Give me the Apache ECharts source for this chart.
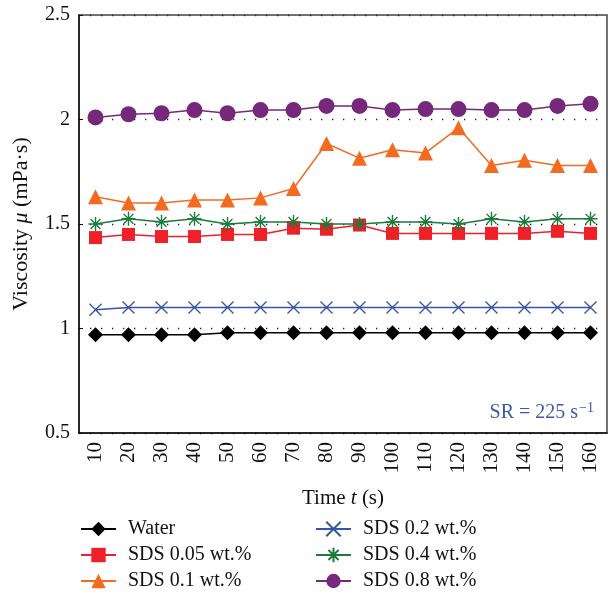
<!DOCTYPE html>
<html>
<head>
<meta charset="utf-8">
<script src="https://cdn.jsdelivr.net/npm/echarts@6/dist/echarts.min.js"></script>
<style>
  html, body { margin: 0; padding: 0; background: #fff; }
  #chart { width: 610px; height: 595px; }
</style>
</head>
<body>
<div id="chart"></div>
<script>
// Sampling times (s)
const times = ['10','20','30','40','50','60','70','80','90','100','110','120','130','140','150','160'];

// Viscosity (mPa·s) of each fluid at SR = 225 1/s
const water   = [0.97, 0.97, 0.97, 0.97, 0.98, 0.98, 0.98, 0.98, 0.98, 0.98, 0.98, 0.98, 0.98, 0.98, 0.98, 0.98];
const sds005  = [1.435, 1.45, 1.44, 1.44, 1.45, 1.45, 1.48, 1.475, 1.495, 1.455, 1.455, 1.455, 1.455, 1.455, 1.465, 1.455];
const sds01   = [1.63, 1.60, 1.60, 1.615, 1.615, 1.625, 1.67, 1.885, 1.815, 1.855, 1.84, 1.96, 1.78, 1.805, 1.78, 1.78];
const sds02   = [1.09, 1.10, 1.10, 1.10, 1.10, 1.10, 1.10, 1.10, 1.10, 1.10, 1.10, 1.10, 1.10, 1.10, 1.10, 1.10];
const sds04   = [1.50, 1.525, 1.51, 1.525, 1.50, 1.51, 1.51, 1.50, 1.50, 1.51, 1.51, 1.50, 1.525, 1.51, 1.525, 1.525];
const sds08   = [2.01, 2.025, 2.03, 2.045, 2.03, 2.045, 2.045, 2.065, 2.065, 2.045, 2.05, 2.05, 2.045, 2.045, 2.065, 2.075];

// Y axis ticks
const yMin = 0.5, yMax = 2.5, yStep = 0.5;

const FONT = '"Liberation Serif", "DejaVu Serif", serif';
const TXT = '#111';

const crossPath = 'path://M0,0 L10,10 M10,0 L0,10';
const starPath  = 'path://M5,0 L5,10 M0,5 L10,5 M1.5,1.5 L8.5,8.5 M8.5,1.5 L1.5,8.5';

function makeSeries(name, data, color, symbol, size, hollow) {
  const s = {
    name: name,
    type: 'line',
    data: data,
    symbol: symbol,
    symbolSize: size,
    lineStyle: { color: color, width: 1.5 },
    itemStyle: { color: color },
    z: 3
  };
  if (hollow) {
    s.itemStyle = { color: 'rgba(0,0,0,0)', borderColor: color, borderWidth: 1.4 };
  }
  return s;
}

const chart = echarts.init(document.getElementById('chart'), null, { renderer: 'canvas' });

const legendBase = {
  orient: 'vertical',
  top: 519,
  padding: 0,
  itemWidth: 35,
  itemHeight: 18,
  itemGap: 6,
  textStyle: { fontFamily: FONT, fontSize: 20, color: TXT, lineHeight: 20, padding: [0, 0, 0, 7] }
};

chart.setOption({
  animation: false,
  backgroundColor: '#fff',
  grid: {
    left: 79, right: 3, top: 15, bottom: 162,
    show: true, borderColor: '#444', borderWidth: 1.5, backgroundColor: 'transparent'
  },
  legend: [
    Object.assign({}, legendBase, { left: 80, data: ['Water', 'SDS 0.05 wt.%', 'SDS 0.1 wt.%'] }),
    Object.assign({}, legendBase, { left: 315, data: ['SDS 0.2 wt.%', 'SDS 0.4 wt.%', 'SDS 0.8 wt.%'] })
  ],
  xAxis: {
    type: 'category',
    data: times,
    boundaryGap: true,
    name: '{a|Time }{i|t}{a| (s)}',
    nameLocation: 'middle',
    nameGap: 55,
    nameTextStyle: {
      rich: {
        a: { fontFamily: FONT, fontSize: 21, color: TXT },
        i: { fontFamily: FONT, fontSize: 21, color: TXT, fontStyle: 'italic' }
      }
    },
    axisLine: { lineStyle: { color: '#111', width: 1.5 } },
    axisTick: { inside: true, length: 4, lineStyle: { color: '#111' } },
    axisLabel: { rotate: 90, margin: 9, fontFamily: FONT, fontSize: 21, color: TXT },
    splitLine: { show: false }
  },
  yAxis: {
    type: 'value',
    min: yMin, max: yMax, interval: yStep,
    name: '{a|Viscosity }{i|μ}{a| (mPa·s)}',
    nameLocation: 'middle',
    nameGap: 47,
    nameTextStyle: {
      rich: {
        a: { fontFamily: FONT, fontSize: 22, color: TXT },
        i: { fontFamily: FONT, fontSize: 22, color: TXT, fontStyle: 'italic' }
      }
    },
    axisLine: { show: true, lineStyle: { color: '#111', width: 1.5 } },
    axisTick: { show: true, inside: true, length: 4, lineStyle: { color: '#111' } },
    axisLabel: { margin: 9, fontFamily: FONT, fontSize: 20, color: TXT },
    splitLine: { show: true, lineStyle: { color: '#222', width: 1.3, type: [1.3, 9.7] } }
  },
  graphic: [{
    type: 'text',
    right: 16,
    top: 401,
    style: {
      text: '{a|SR = 225 s}{s|−1}',
      rich: {
        a: { fontFamily: FONT, fontSize: 20, fill: '#3b5aa8', verticalAlign: 'bottom', lineHeight: 22 },
        s: { fontFamily: FONT, fontSize: 14, fill: '#3b5aa8', verticalAlign: 'top', padding: [0, 0, 9, 1], lineHeight: 22 }
      }
    }
  }],
  series: [
    makeSeries('Water', water, '#000000', 'diamond', 15),
    makeSeries('SDS 0.05 wt.%', sds005, '#ee2028', 'rect', 13),
    makeSeries('SDS 0.1 wt.%', sds01, '#f36b21', 'triangle', 15),
    makeSeries('SDS 0.2 wt.%', sds02, '#3755a6', crossPath, 12, true),
    makeSeries('SDS 0.4 wt.%', sds04, '#1b7a3c', starPath, 14, true),
    makeSeries('SDS 0.8 wt.%', sds08, '#76287a', 'circle', 16)
  ]
});
</script>
</body>
</html>
